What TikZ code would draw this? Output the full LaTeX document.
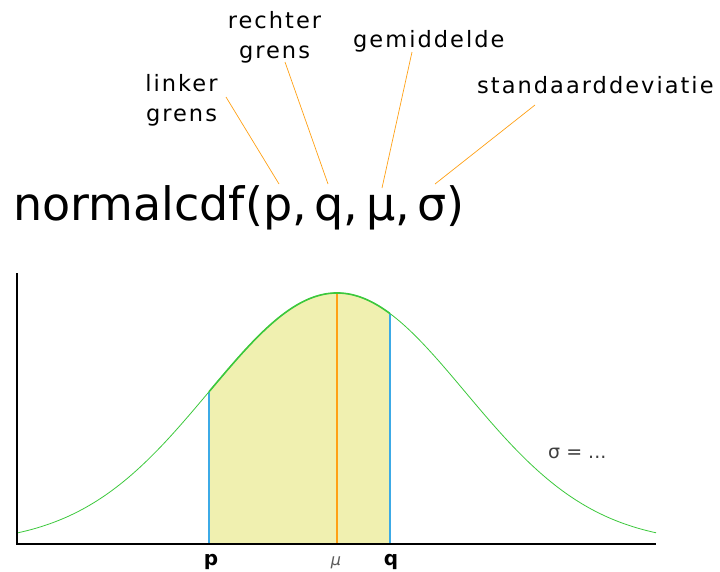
\documentclass[tikz,border=0pt]{standalone}
\usepackage{fontspec}
\setmainfont{DejaVu Sans}
\newfontfamily\labfont[LetterSpace=9]{DejaVu Sans}
\definecolor{curvec}{RGB}{60,200,60}
\definecolor{fillc}{RGB}{240,240,176}
\definecolor{bluec}{RGB}{60,170,230}
\definecolor{orangec}{RGB}{255,160,20}
\definecolor{grayc}{RGB}{90,90,90}
\tikzset{
  lab/.style={inner sep=0pt, font=\labfont\fontsize{22.5}{30}\selectfont, align=center},
  pointer/.style={draw=orangec, line width=0.7pt},
  bound/.style={draw=bluec, line width=1.2pt},
  axis/.style={draw=black, line width=1.3pt},
}
\begin{document}
\begin{tikzpicture}[x=1pt,y=-1pt]
\useasboundingbox (0,0) rectangle (720,571);
% labels
\node[lab] (linker) at (181.5,100) {linker\\grens};
\node[lab] (rechter) at (274.5,37.5) {rechter\\grens};
\node[lab, anchor=base west] (gem) at (353,47) {gemiddelde};
\node[lab, anchor=base west] (std) at (477,93) {standaarddeviatie};
\node[inner sep=0pt, anchor=base west, font=\fontsize{46}{46}\selectfont] (formula) at (13,220) {normalcdf(p,\,q,\,μ,\,σ)};
% pointer coordinates
\coordinate (l1) at (226,97);  \coordinate (l2) at (279,184);
\coordinate (r1) at (285,62);  \coordinate (r2) at (328,184);
\coordinate (g1) at (412,52);  \coordinate (g2) at (382,188);
\coordinate (s1) at (535,105); \coordinate (s2) at (435,184);
\draw[pointer] (l1) -- (l2);
\draw[pointer] (r1) -- (r2);
\draw[pointer] (g1) -- (g2);
\draw[pointer] (s1) -- (s2);
% graph
\coordinate (pb) at (209,544); \coordinate (pt) at (209,391.8);
\coordinate (qb) at (390,544); \coordinate (qt) at (390,313.6);
\coordinate (mb) at (337,544); \coordinate (mt) at (337,293);
\fill[fillc] (pb) -- plot[domain=209:390, samples=80] (\x,{544-251*exp(-0.5*((\x-337)/128)^2)}) -- (qb) -- cycle;
\draw[bound] (pb) -- (pt);
\draw[bound] (qb) -- (qt);
\draw[draw=orangec, line width=1.4pt] (mb) -- (mt);
\draw[curvec, line width=0.8pt] plot[domain=17:656, samples=200] (\x,{544-251*exp(-0.5*((\x-337)/128)^2)});
\draw[curvec, line width=1.6pt] plot[domain=209:390, samples=80] (\x,{544-251*exp(-0.5*((\x-337)/128)^2)});
\coordinate (yt) at (17,273); \coordinate (o) at (17,544); \coordinate (xr) at (656,544);
\draw[axis] (yt) -- (o) -- (xr);
\node[inner sep=0pt, anchor=base, font=\bfseries\fontsize{20}{20}\selectfont] (plab) at (211,565) {p};
\node[inner sep=0pt, anchor=base, font=\bfseries\fontsize{20}{20}\selectfont] (qlab) at (391,565) {q};
\node[inner sep=0pt, anchor=base, text=grayc, font=\itshape\fontsize{16}{16}\selectfont] (mlab) at (336,565) {μ};
\node[inner sep=0pt, anchor=base west, text=grayc!70!black, font=\fontsize{19}{19}\selectfont] (slab) at (548,458) {σ = ...};
\end{tikzpicture}
\end{document}
